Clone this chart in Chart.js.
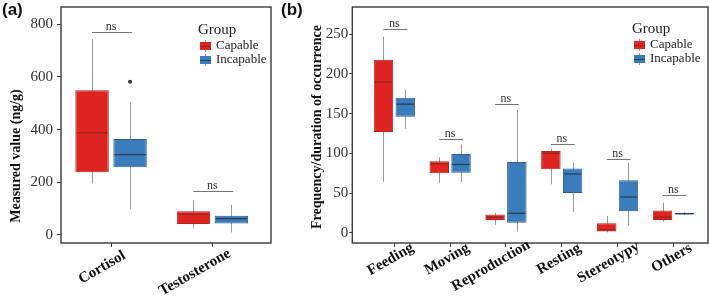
<!DOCTYPE html>
<html>
<head>
<meta charset="utf-8">
<script src="https://cdn.jsdelivr.net/npm/chart.js@4.4.1/dist/chart.umd.min.js"></script>
<style>
  body { margin: 0; background: #fff; }
  #wrap { position: relative; width: 709px; height: 300px; }
  canvas { position: absolute; top: 0; }
  #chart-a { left: 0; }
  #chart-b { left: 280px; }
  .tag { position: absolute; top: 0; font: bold 17px 'Liberation Sans', Arial, sans-serif; color: #111; }
</style>
</head>
<body>
<div id="wrap">
  <canvas id="chart-a" width="280" height="300"></canvas>
  <canvas id="chart-b" width="429" height="300"></canvas>
  <div class="tag" style="left:2px">(a)</div>
  <div class="tag" style="left:281px">(b)</div>
</div>
<script>
// Panel (a): hormone levels
// each box: [lower whisker, Q1, median, Q3, upper whisker]
const hormones = ['Cortisol', 'Testosterone'];
const hormoneCapable = [[196, 238, 388, 550, 745], [28, 42, 78, 90, 133]];
const hormoneIncapable = [[99, 257, 305, 364, 506], [10, 44, 62, 73, 114]];
const hormoneCapableOut = [[], []];
const hormoneIncapableOut = [[582], []];
const hormoneNs = [772, 167];
const hormoneTicks = [0, 200, 400, 600, 800];

// Panel (b): behaviours
const behaviours = ['Feeding', 'Moving', 'Reproduction', 'Resting', 'Stereotypy', 'Others'];
const behaviourCapable = [
  [64, 127, 190, 218, 247],
  [63, 75, 87, 90, 95],
  [10, 16, 19.5, 23, 25],
  [61, 80, 100, 103, 106],
  [0.5, 1.5, 3.5, 12, 21],
  [14, 16, 19.5, 28, 38]
];
const behaviourIncapable = [
  [131, 146, 162, 170, 180],
  [64, 75.5, 86, 99, 111],
  [1.3, 12.6, 24.4, 89, 154.5],
  [26, 50, 74, 81, 88],
  [9, 27, 45, 66, 88],
  [22.5, 23, 24, 25, 26]
];
const behaviourCapableOut = [[], [], [], [], [], []];
const behaviourIncapableOut = [[], [], [], [], [], []];
const behaviourNs = [257, 118, 162, 112, 93, 48];
const behaviourTicks = [0, 50, 100, 150, 200, 250];

const groups = ['Capable', 'Incapable'];

Chart.defaults.font.family = "'Liberation Serif', 'Times New Roman', serif";

const look = {
  fill: ['#DD2420', '#3A7DBA'],
  edge: ['#B3251F', '#2E5F8C'],
  median: ['#9A221D', '#24425E'],
  whisker: '#9a9a9a',
  frame: '#3a3a3a',
  text: '#222'
};


// Whiskers, medians, outliers, frame, ns brackets, legend and axis texts.
const boxPlugin = {
  id: 'boxes',

  beforeDatasetsDraw(chart) {
    const {ctx} = chart;
    const y = chart.scales.y;
    ctx.save();
    ctx.strokeStyle = look.whisker;
    ctx.lineWidth = 1;
    chart.data.datasets.forEach((ds, i) => {
      chart.getDatasetMeta(i).data.forEach((bar, j) => {
        const s = ds.stats[j];
        const x = Math.round(bar.x) + 0.5;
        ctx.beginPath();
        ctx.moveTo(x, y.getPixelForValue(s[0]));
        ctx.lineTo(x, y.getPixelForValue(s[4]));
        ctx.stroke();
      });
    });
    ctx.restore();
  },

  afterDatasetsDraw(chart) {
    const {ctx} = chart;
    const y = chart.scales.y;
    ctx.save();
    chart.data.datasets.forEach((ds, i) => {
      chart.getDatasetMeta(i).data.forEach((bar, j) => {
        const s = ds.stats[j];
        const py = y.getPixelForValue(s[2]);
        ctx.strokeStyle = look.median[i];
        ctx.lineWidth = 1.3;
        ctx.beginPath();
        ctx.moveTo(bar.x - bar.width / 2 + 1, py);
        ctx.lineTo(bar.x + bar.width / 2 - 1, py);
        ctx.stroke();
        // outliers
        ctx.fillStyle = '#333';
        (ds.outliers[j] || []).forEach(v => {
          ctx.beginPath();
          ctx.arc(bar.x, y.getPixelForValue(v), 2, 0, Math.PI * 2);
          ctx.fill();
        });
      });
    });
    ctx.restore();
  },

  afterDraw(chart, args, opts) {
    const {ctx, chartArea: a} = chart;
    const x = chart.scales.x;
    const y = chart.scales.y;
    ctx.save();

    // panel frame
    ctx.strokeStyle = look.frame;
    ctx.lineWidth = 1.4;
    ctx.strokeRect(a.left, a.top, a.right - a.left, a.bottom - a.top);

    // ns brackets
    const m0 = chart.getDatasetMeta(0).data;
    const m1 = chart.getDatasetMeta(1).data;
    ctx.font = "12px 'Liberation Serif'";
    ctx.textAlign = 'center';
    ctx.textBaseline = 'alphabetic';
    opts.ns.forEach((v, j) => {
      const py = Math.round(y.getPixelForValue(v)) + 0.5;
      ctx.strokeStyle = '#777';
      ctx.lineWidth = 1;
      ctx.beginPath();
      ctx.moveTo(m0[j].x, py);
      ctx.lineTo(m1[j].x + 2, py);
      ctx.stroke();
      ctx.fillStyle = '#333';
      ctx.fillText('ns', (m0[j].x + m1[j].x) / 2, py - 3);
    });

    // legend
    const lg = opts.legend;
    ctx.textAlign = 'left';
    ctx.textBaseline = 'middle';
    ctx.fillStyle = look.text;
    ctx.font = "15px 'Liberation Serif'";
    ctx.fillText('Group', lg.x, lg.y);
    ctx.font = "13px 'Liberation Serif'";
    groups.forEach((g, i) => {
      const cy = lg.y + 16 + i * 14;
      const sx = lg.x + 2;
      ctx.strokeStyle = look.whisker;
      ctx.lineWidth = 1;
      ctx.beginPath();
      ctx.moveTo(sx + 5.5, cy - 6);
      ctx.lineTo(sx + 5.5, cy + 6);
      ctx.stroke();
      ctx.fillStyle = look.fill[i];
      ctx.fillRect(sx, cy - 4, 11, 8);
      ctx.strokeStyle = look.median[i];
      ctx.beginPath();
      ctx.moveTo(sx, cy + 0.5);
      ctx.lineTo(sx + 11, cy + 0.5);
      ctx.stroke();
      ctx.fillStyle = look.text;
      ctx.fillText(g, sx + 16, cy);
    });

    // category labels, slanted 30 degrees
    ctx.font = "bold 15px 'Liberation Serif'";
    ctx.fillStyle = '#111';
    ctx.textAlign = 'left';
    ctx.textBaseline = 'top';
    opts.categories.forEach((c, j) => {
      const w = ctx.measureText(c).width;
      ctx.save();
      ctx.translate(x.getPixelForValue(j) + opts.labelDx, a.bottom + opts.labelDy);
      ctx.rotate(-Math.PI / 6);
      ctx.fillText(c, -0.85 * w, 0);
      ctx.restore();
    });

    // y axis title
    ctx.translate(opts.title.x, opts.title.y);
    ctx.rotate(-Math.PI / 2);
    ctx.textAlign = 'center';
    ctx.textBaseline = 'middle';
    ctx.font = "bold 14px 'Liberation Serif'";
    ctx.fillStyle = '#111';
    ctx.fillText(opts.title.text, 0, 0);
    ctx.restore();
  }
};


function boxDataset(i, stats, outliers, cat, bar) {
  return {
    label: groups[i],
    data: stats.map((s, j) => ({x: j, y: [s[1], s[3]]})),
    stats: stats,
    outliers: outliers,
    backgroundColor: look.fill[i],
    borderColor: look.edge[i],
    borderWidth: 1,
    borderSkipped: false,
    categoryPercentage: cat,
    barPercentage: bar
  };
}


function drawPanel(id, p) {
  const canvas = document.getElementById(id);
  return new Chart(canvas, {
    type: 'bar',
    data: {
      datasets: [
        boxDataset(0, p.capable, p.capableOut, p.cat, p.bar),
        boxDataset(1, p.incapable, p.incapableOut, p.cat, p.bar)
      ]
    },
    plugins: [boxPlugin],
    options: {
      responsive: false,
      animation: false,
      layout: { padding: { left: 0, top: 7, right: canvas.width - p.right, bottom: 0 } },
      plugins: {
        legend: { display: false },
        tooltip: { enabled: false },
        boxes: {
          ns: p.ns,
          legend: p.legend,
          title: p.title,
          categories: p.categories,
          labelDx: p.labelDx,
          labelDy: p.labelDy
        }
      },
      scales: {
        x: {
          type: 'linear',
          min: p.xMin,
          max: p.xMax,
          offset: false,
          afterBuildTicks: s => { s.ticks = p.categories.map((c, j) => ({value: j})); },
          afterFit: s => { s.height = 300 - 243; s.paddingLeft = 0; s.paddingRight = 0; },
          ticks: { display: false },
          grid: { offset: false, drawOnChartArea: false, tickLength: 4, tickColor: look.frame },
          border: { display: false }
        },
        y: {
          min: p.yMin,
          max: p.yMax,
          afterBuildTicks: s => { s.ticks = p.yTicks.map(v => ({value: v})); },
          afterFit: s => { s.width = p.left; s.paddingTop = 0; s.paddingBottom = 0; },
          ticks: { color: '#333', padding: p.tickPad, font: { size: 15 } },
          grid: { drawOnChartArea: false, tickLength: p.tickLen, tickColor: look.frame },
          border: { display: false }
        }
      }
    }
  });
}


drawPanel('chart-a', {
  categories: hormones,
  capable: hormoneCapable,
  incapable: hormoneIncapable,
  capableOut: hormoneCapableOut,
  incapableOut: hormoneIncapableOut,
  ns: hormoneNs,
  yTicks: hormoneTicks,
  yMin: -30.4, yMax: 865.6,
  xMin: -0.494, xMax: 1.578,
  cat: 0.75, bar: 0.88,
  left: 61, right: 271,
  tickLen: 4, tickPad: 4,
  labelDx: 3, labelDy: 9,
  legend: { x: 198, y: 30 },
  title: { x: 16, y: 156, text: 'Measured value (ng/g)' }
});

drawPanel('chart-b', {
  categories: behaviours,
  capable: behaviourCapable,
  incapable: behaviourIncapable,
  capableOut: behaviourCapableOut,
  incapableOut: behaviourIncapableOut,
  ns: behaviourNs,
  yTicks: behaviourTicks,
  yMin: -13, yMax: 284.4,
  xMin: -0.753, xMax: 5.62,
  cat: 0.78, bar: 0.895,
  left: 72.3, right: 428,
  tickLen: 3, tickPad: 1,
  labelDx: 8, labelDy: 1,
  legend: { x: 352, y: 29 },
  title: { x: 37, y: 127, text: 'Frequency/duration of occurrence' }
});
</script>
</body>
</html>
